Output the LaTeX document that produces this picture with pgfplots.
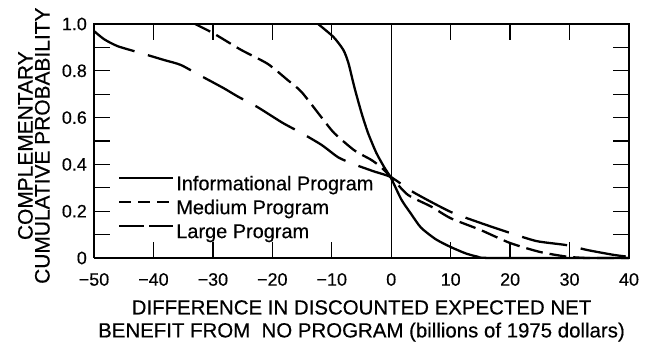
\documentclass[border=0pt]{standalone}
\usepackage{pgfplots}
\pgfplotsset{compat=1.18}
\usepackage{fontspec}
\setmainfont[FakeBold=0.4]{Liberation Sans}
\begin{document}
\begin{tikzpicture}
\begin{axis}[
  scale only axis,
  width=535bp, height=234bp,
  xmin=-50, xmax=40, ymin=0, ymax=1,
  clip=false,
  axis line style={draw=none},
  xtick={-50,-40,-30,-20,-10,0,10,20,30,40},
  xticklabels={−50,−40,−30,−20,−10,0,10,20,30,40},
  ytick={0,0.2,0.4,0.6,0.8,1},
  yticklabels={0,0.2,0.4,0.6,0.8,1.0},
  /pgf/number format/assume math mode=true,
  major tick length=0pt,
  xticklabel style={font=\fontsize{18}{20}\selectfont, inner sep=0pt, yshift=-15pt},
  yticklabel style={font=\fontsize{18}{20}\selectfont, inner sep=0pt, xshift=-7pt},
  xlabel={DIFFERENCE IN DISCOUNTED EXPECTED NET\\BENEFIT FROM\ \ NO PROGRAM (billions of 1975 dollars)},
  xlabel style={font=\fontsize{20.5}{23}\selectfont, align=center, inner sep=0pt, anchor=north, at={(axis description cs:0.5,-0.1795)}},
  ylabel={COMPLEMENTARY\\CUMULATIVE PROBABILITY},
  ylabel style={font=\fontsize{21}{17}\selectfont, align=center, inner sep=0pt, anchor=south, at={(axis description cs:-0.0823,0.48)}},
  legend style={at={(axis description cs:0.0449,0.35)}, anchor=north west, draw=none, fill=none, inner sep=0pt,
    font=\fontsize{20}{23}\selectfont, row sep=6pt, column sep=2pt,
    nodes={inner sep=0pt, text height=14pt, text depth=4pt}},
  legend cell align=left,
]
% axis frame and tick marks
\addplot[black, line width=1.8pt, forget plot] coordinates {(-50,0) (40,0) (40,1) (-50,1) (-50,0)};
\addplot[black, line width=1.2pt, forget plot] coordinates {(0,0) (0,1)};
\pgfplotsinvokeforeach{-40,-30,-20,-10,10,20,30}{
  \addplot[black, line width=1.3pt, forget plot] coordinates {(#1,0) (#1,0.068)};
  \addplot[black, line width=1.3pt, forget plot] coordinates {(#1,1) (#1,0.932)};
}
\pgfplotsinvokeforeach{0.1,0.2,0.3,0.4,0.5,0.6,0.7,0.8,0.9}{
  \addplot[black, line width=1.3pt, forget plot] coordinates {(-50,#1) (-47.3,#1)};
  \addplot[black, line width=1.3pt, forget plot] coordinates {(40,#1) (37.3,#1)};
}
\addplot[black, line width=2.3pt, smooth, tension=0.4,
  legend image code/.code={\draw[black, line width=2.3pt] (0pt,7pt) -- (54pt,7pt);}]
  coordinates {
  (-12.3,1.0) (-9.7,0.944) (-8.05,0.889) (-7.2,0.833) (-6.2,0.73) (-5.0,0.62)
  (-3.9,0.534) (-2.5,0.449) (-1.2,0.389) (0,0.34) (1.7,0.25) (3.3,0.19)
  (5,0.13) (7.5,0.08) (10,0.047) (12.5,0.02) (14.5,0.006) (17,0.0) (40,0.0)
  };
\addlegendentry{Informational Program}
\addplot[black, line width=2.3pt, dash pattern=on 17pt off 7pt, smooth, tension=0.4,
  legend image code/.code={\draw[black, line width=2.3pt, dash pattern=on 12pt off 7pt] (0pt,7pt) -- (54pt,7pt);}]
  coordinates {
  (-33,1.0) (-29.9,0.96) (-25.3,0.89) (-20.8,0.83) (-17.4,0.76) (-15.1,0.71)
  (-11.7,0.60) (-9.6,0.534) (-6.2,0.46) (-3.4,0.42) (-1.8,0.39) (0,0.345)
  (2.8,0.27) (6.7,0.22) (10,0.17) (15,0.12) (20,0.064) (25,0.026) (29.5,0.006) (33,0.0) (40,0.0)
  };
\addlegendentry{Medium Program}
\addplot[black, line width=2.3pt, dash pattern=on 46pt off 14pt, smooth, tension=0.4,
  legend image code/.code={\draw[black, line width=2.3pt, dash pattern=on 25pt off 5pt] (0pt,7pt) -- (54pt,7pt);}]
  coordinates {
  (-50,0.97) (-48.3,0.935) (-46,0.905) (-42,0.875) (-38.2,0.846) (-35.4,0.825)
  (-32,0.778) (-28.2,0.726) (-25.8,0.69) (-22.5,0.645) (-18.3,0.578) (-15.1,0.534)
  (-11.7,0.483) (-8.9,0.43) (-6.2,0.40) (-2.9,0.37) (0,0.345) (3.8,0.28)
  (10,0.197) (15,0.15) (20,0.107) (24.5,0.072) (29.5,0.055) (33,0.034) (37.5,0.013) (40,0.005)
  };
\addlegendentry{Large Program}
\end{axis}
\path ([shift={(-94bp,-85bp)}]current axis.south west) rectangle ([shift={(28bp,24bp)}]current axis.north east);
\end{tikzpicture}
\end{document}
